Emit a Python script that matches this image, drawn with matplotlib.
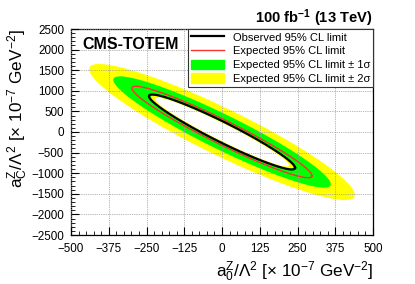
import numpy as np
import matplotlib
matplotlib.use("Agg")
import matplotlib.pyplot as plt
from matplotlib.lines import Line2D
from matplotlib.patches import Patch
from matplotlib.ticker import AutoMinorLocator

plt.rcParams['font.family'] = ['Liberation Sans', 'DejaVu Sans']
plt.rcParams['mathtext.fontset'] = 'custom'
plt.rcParams['mathtext.rm'] = 'Liberation Sans'
plt.rcParams['mathtext.bf'] = 'Liberation Sans:bold'
plt.rcParams['mathtext.default'] = 'regular'

# Contours: limits on a0 (x), aC (y) and aC-intercept at a0 = 0
contours = ['+2sigma', '+1sigma', 'expected', 'observed', '-1sigma', '-2sigma']
a0_limit = [440, 360, 298, 242, 236, 222]
aC_limit = [1650, 1350, 1110, 910, 885, 835]
aC_at_a0_zero = [630, 470, 325, 268, 250, 225]

x_ticks = [-500, -375, -250, -125, 0, 125, 250, 375, 500]
y_ticks = [-2500, -2000, -1500, -1000, -500, 0, 500, 1000, 1500, 2000, 2500]

legend_labels = ['Observed 95% CL limit', 'Expected 95% CL limit',
                 'Expected 95% CL limit ± 1σ', 'Expected 95% CL limit ± 2σ']


def ellipse(X, Y, c):
    t = np.linspace(0, 2 * np.pi, 600)
    phi = np.arcsin(c / Y)
    return X * np.cos(t), -Y * np.cos(t + phi)


fig = plt.figure(figsize=(4.15, 2.84), dpi=100)
ax = fig.add_axes([71 / 415, 1 - 235 / 284, 302 / 415, 206 / 284])

E = {n: ellipse(X, Y, c) for n, X, Y, c in zip(contours, a0_limit, aC_limit, aC_at_a0_zero)}
ax.fill(*E['+2sigma'], color='#ffff00', lw=0, zorder=1)
ax.fill(*E['+1sigma'], color='#00ff00', lw=0, zorder=1)
ax.fill(*E['-1sigma'], color='#ffff00', lw=0, zorder=1)
ax.fill(*E['-2sigma'], color='white', lw=0, zorder=1)
ax.plot(*E['expected'], color='#ff3030', lw=1.0, zorder=3)
ax.plot(*E['observed'], color='black', lw=1.6, zorder=3)

ax.set_xlim(-500, 500)
ax.set_ylim(-2500, 2500)
ax.set_xticks(x_ticks)
ax.set_yticks(y_ticks)
ax.set_xticklabels([f"{v}".replace('-', '\u2212') for v in x_ticks])
ax.set_yticklabels([f"{v}".replace('-', '\u2212') for v in y_ticks])
ax.xaxis.set_minor_locator(AutoMinorLocator(5))
ax.yaxis.set_minor_locator(AutoMinorLocator(5))
ax.tick_params(which='both', direction='in', top=False, right=False, labelsize=8.4)
ax.tick_params(which='major', length=6, width=0.8)
ax.tick_params(which='minor', length=3, width=0.6)
ax.tick_params(axis='x', pad=6)
ax.tick_params(axis='y', pad=5)
ax.grid(True, which='major', color='#9a9a9a', linestyle=(0, (1, 1.2)), linewidth=0.6, zorder=2)
ax.set_axisbelow(False)
for s in ax.spines.values():
    s.set_linewidth(0.9)

ax.set_xlabel('a$_0^Z$/Λ$^2$ [× 10$^{-7}$ GeV$^{-2}$]', fontsize=12.3, loc='right', labelpad=3)
ax.set_ylabel('a$_C^Z$/Λ$^2$ [× 10$^{-7}$ GeV$^{-2}$]', fontsize=12.3, loc='top', labelpad=1)

ax.text(0.037, 0.963, 'CMS-TOTEM', transform=ax.transAxes, fontsize=11.5,
        fontweight='bold', va='top', ha='left', zorder=6)
ax.text(1.0, 1 + 6 / 206, '100 fb$^{\\mathbf{-1}}$ (13 TeV)', transform=ax.transAxes,
        fontsize=10.6, fontweight='bold', ha='right', va='baseline')

handles = [Line2D([], [], color='black', lw=1.6),
           Line2D([], [], color='#ff3030', lw=1.0),
           Patch(facecolor='#00ff00', edgecolor='#00ff00'),
           Patch(facecolor='#ffff00', edgecolor='#ffff00')]
leg = ax.legend(handles, legend_labels, loc='upper right', bbox_to_anchor=(1.0, 1.0),
                borderaxespad=0, fancybox=False, framealpha=1, edgecolor='#333333',
                fontsize=8, handlelength=3.0, handleheight=1.0, labelspacing=0.28,
                borderpad=0.25, handletextpad=0.8)
leg.get_frame().set_linewidth(0.8)
leg.set_zorder(7)

fig.savefig('out.png', dpi=100)
